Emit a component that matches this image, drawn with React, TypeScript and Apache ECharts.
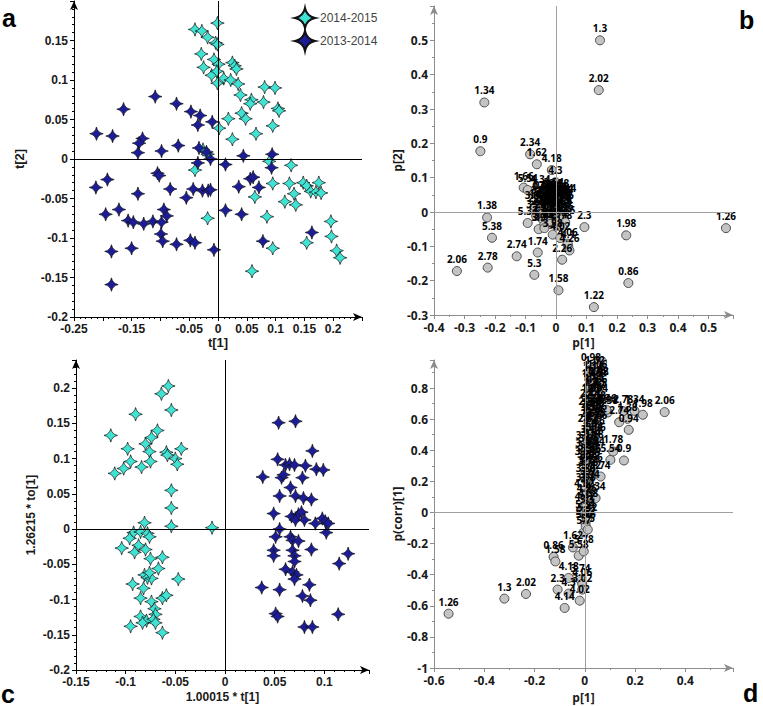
import React, { useEffect, useRef } from "react";
import * as echarts from "echarts";

// ---------- Panel a : t[1] vs t[2] ----------
const aSeason2014_2015: number[][] = [
  [-0.040, 0.164], [-0.028, 0.162], [-0.001, 0.172], [-0.018, 0.154], [-0.004, 0.147], [-0.001, 0.145],
  [-0.029, 0.133], [-0.025, 0.116], [-0.007, 0.126], [0.001, 0.120], [0.025, 0.122], [0.029, 0.118],
  [0.032, 0.114], [-0.011, 0.106], [-0.002, 0.111], [0.010, 0.102], [0.022, 0.100], [-0.001, 0.096],
  [0.035, 0.095], [0.081, 0.091], [0.099, 0.090], [0.039, 0.081], [0.058, 0.075], [0.056, 0.070],
  [0.079, 0.072], [0.104, 0.064], [0.106, 0.061], [0.041, 0.058], [0.048, 0.051], [0.018, 0.051],
  [0.095, 0.042], [0.002, 0.039], [0.066, 0.032], [0.025, 0.025], [-0.026, 0.012], [-0.018, 0.006],
  [0.089, -0.003], [0.127, -0.008], [0.095, -0.031], [0.124, -0.031], [0.132, -0.044], [0.116, -0.054],
  [0.135, -0.058], [0.148, -0.030], [0.154, -0.034], [0.161, -0.041], [0.170, -0.042], [0.175, -0.030],
  [0.179, -0.043], [0.064, -0.048], [0.085, -0.073], [-0.018, -0.075], [-0.040, -0.014], [0.196, -0.079],
  [0.197, -0.098], [0.206, -0.116], [0.212, -0.125], [0.154, -0.106], [0.095, -0.113], [0.059, -0.142],
];
const aSeason2013_2014: number[][] = [
  [-0.211, 0.032], [-0.183, 0.029], [-0.164, 0.063], [-0.109, 0.079], [-0.072, 0.070], [-0.047, 0.060],
  [-0.031, 0.055], [-0.035, 0.043], [-0.010, 0.047], [-0.131, 0.026], [-0.137, 0.020], [-0.139, 0.008],
  [-0.098, 0.010], [-0.069, 0.017], [-0.033, 0.014], [-0.020, 0.009], [-0.013, 0.000], [-0.035, -0.005],
  [0.013, -0.007], [0.044, 0.004], [0.094, 0.006], [0.093, -0.011], [-0.212, -0.036], [-0.192, -0.026],
  [-0.139, -0.044], [-0.105, -0.018], [-0.102, -0.021], [-0.083, -0.038], [-0.055, -0.049], [-0.043, -0.038],
  [-0.027, -0.040], [-0.017, -0.040], [-0.013, -0.039], [0.036, -0.035], [0.056, -0.025], [0.061, -0.023],
  [0.071, -0.036], [0.013, -0.065], [0.041, -0.070], [-0.195, -0.070], [-0.172, -0.064], [-0.156, -0.078],
  [-0.147, -0.080], [-0.129, -0.082], [-0.113, -0.079], [-0.098, -0.080], [-0.094, -0.064], [-0.089, -0.072],
  [-0.099, -0.095], [-0.096, -0.104], [-0.072, -0.108], [-0.048, -0.103], [-0.040, -0.106], [-0.007, -0.115],
  [-0.150, -0.113], [-0.185, -0.117], [-0.185, -0.159], [0.078, -0.104], [0.163, -0.093],
];

// ---------- Panel c : 1.00015*t[1] vs 1.26215*to[1] ----------
const cSeason2014_2015: number[][] = [
  [-0.115, 0.133], [-0.111, 0.079], [-0.102, 0.086], [-0.098, 0.114], [-0.095, 0.096], [-0.090, 0.163],
  [-0.084, 0.088], [-0.080, 0.121], [-0.076, 0.110], [-0.074, 0.130], [-0.075, 0.096], [-0.068, 0.140],
  [-0.064, 0.192], [-0.057, 0.203], [-0.054, 0.169], [-0.059, 0.109], [-0.058, 0.105], [-0.050, 0.100],
  [-0.048, 0.092], [-0.044, 0.114], [-0.054, 0.055], [-0.054, 0.030], [-0.054, 0.004], [-0.013, 0.002],
  [-0.081, 0.009], [-0.092, -0.005], [-0.096, -0.013], [-0.104, -0.027], [-0.091, -0.033], [-0.087, -0.023],
  [-0.085, -0.004], [-0.078, -0.006], [-0.076, -0.011], [-0.080, -0.029], [-0.075, -0.042], [-0.063, -0.040],
  [-0.067, -0.056], [-0.081, -0.065], [-0.078, -0.069], [-0.074, -0.070], [-0.076, -0.062], [-0.047, -0.071],
  [-0.093, -0.078], [-0.082, -0.084], [-0.085, -0.098], [-0.074, -0.103], [-0.063, -0.098], [-0.059, -0.094],
  [-0.071, -0.113], [-0.070, -0.121], [-0.085, -0.124], [-0.079, -0.130], [-0.083, -0.133], [-0.072, -0.128],
  [-0.070, -0.133], [-0.095, -0.138], [-0.063, -0.147],
];
const cSeason2013_2014: number[][] = [
  [0.054, 0.151], [0.071, 0.153], [0.088, 0.111], [0.053, 0.099], [0.061, 0.091], [0.065, 0.092],
  [0.070, 0.091], [0.081, 0.090], [0.092, 0.085], [0.099, 0.084], [0.038, 0.074], [0.057, 0.073],
  [0.059, 0.077], [0.078, 0.073], [0.066, 0.059], [0.055, 0.047], [0.071, 0.047], [0.079, 0.044],
  [0.087, 0.042], [0.049, 0.022], [0.067, 0.018], [0.074, 0.021], [0.077, 0.024], [0.071, 0.013],
  [0.080, 0.013], [0.091, 0.008], [0.098, 0.015], [0.101, 0.011], [0.104, 0.008], [0.055, 0.000],
  [0.051, -0.011], [0.102, -0.005], [0.066, -0.011], [0.068, -0.016], [0.074, -0.017], [0.049, -0.030],
  [0.049, -0.038], [0.068, -0.030], [0.070, -0.038], [0.087, -0.029], [0.124, -0.035], [0.115, -0.049],
  [0.070, -0.046], [0.061, -0.057], [0.068, -0.061], [0.072, -0.065], [0.070, -0.071], [0.085, -0.079],
  [0.037, -0.083], [0.055, -0.086], [0.078, -0.095], [0.086, -0.101], [0.051, -0.120], [0.053, -0.124],
  [0.114, -0.121], [0.080, -0.139], [0.088, -0.139],
];

// ---------- Panel b : p[1] vs p[2] (variable, p1, p2) ----------
const bLoadings: [string, number, number][] = [
  ["1.3", 0.144, 0.500], ["2.02", 0.140, 0.355], ["1.34", -0.235, 0.319], ["0.9", -0.248, 0.177],
  ["2.34", -0.085, 0.168], ["1.62", -0.063, 0.139], ["4.18", -0.014, 0.122], ["4.3", -0.002, 0.087],
  ["1.66", -0.106, 0.071], ["5.54", -0.093, 0.064], ["4.34", -0.051, 0.061], ["4.14", 0.033, 0.036],
  ["1.38", -0.226, -0.016], ["5.38", -0.210, -0.075], ["2.3", 0.093, -0.044], ["1.98", 0.230, -0.068],
  ["1.26", 0.557, -0.047], ["2.74", -0.129, -0.129], ["1.74", -0.060, -0.118], ["2.06", -0.325, -0.172],
  ["2.78", -0.224, -0.162], ["5.3", -0.071, -0.183], ["1.58", 0.008, -0.228], ["1.22", 0.124, -0.277],
  ["0.86", 0.237, -0.207], ["2.26", 0.020, -0.139], ["4.1", 0.040, -0.100], ["4.26", 0.044, -0.112],
  ["0.94", -0.045, 0.040], ["0.98", -0.040, 0.045], ["1.02", -0.030, 0.030], ["1.06", -0.020, 0.038],
  ["1.1", -0.012, 0.030], ["1.14", -0.005, 0.035], ["1.18", 0.002, 0.028], ["1.42", 0.010, 0.032],
  ["1.46", 0.018, 0.030], ["1.5", 0.025, 0.025], ["1.54", -0.055, 0.020], ["1.7", -0.048, 0.012],
  ["1.78", -0.038, 0.018], ["1.82", -0.030, 0.010], ["1.86", -0.022, 0.020], ["1.9", -0.015, 0.012],
  ["1.94", -0.008, 0.018], ["2.1", 0.000, 0.010], ["2.14", 0.008, 0.015], ["2.18", 0.015, 0.008],
  ["2.22", 0.022, 0.014], ["2.38", -0.060, 0.005], ["2.42", -0.050, -0.002], ["2.46", -0.042, 0.004],
  ["2.5", -0.034, -0.004], ["2.54", -0.026, 0.002], ["2.58", -0.018, -0.006], ["2.62", -0.010, 0.003],
  ["2.66", -0.002, -0.004], ["2.7", 0.006, 0.002], ["2.82", 0.014, -0.008], ["2.86", 0.020, -0.002],
  ["2.9", 0.028, 0.004], ["2.94", -0.035, 0.026], ["2.98", -0.025, 0.044], ["3.02", -0.012, 0.046],
  ["3.06", 0.004, 0.042], ["3.1", 0.015, 0.040], ["3.14", 0.024, 0.036], ["3.18", -0.050, 0.030],
  ["3.22", -0.065, -0.012], ["3.26", -0.045, -0.020], ["3.3", -0.030, -0.018], ["3.34", -0.015, -0.022],
  ["3.38", 0.000, -0.020], ["3.42", 0.012, -0.025], ["3.46", 0.025, -0.018], ["3.5", 0.035, 0.015],
  ["3.54", -0.008, 0.052], ["3.58", 0.010, 0.050], ["3.62", -0.070, 0.015], ["3.66", 0.030, -0.030],
  ["3.7", -0.020, -0.035], ["3.74", 0.005, -0.040], ["3.78", 0.020, -0.045], ["3.82", -0.040, -0.040],
  ["5.34", -0.093, -0.032], ["3.9", -0.057, -0.050], ["3.94", -0.038, -0.047], ["3.98", -0.011, -0.066],
  ["4.02", 0.014, -0.076], ["4.06", 0.038, -0.092],
];

// ---------- Panel d : p[1] vs p(corr)[1] (variable, p1, pcorr1) ----------
const dLoadings: [string, number, number][] = [
  ["1.26", -0.542, -0.651], ["1.3", -0.320, -0.554], ["2.02", -0.234, -0.524], ["2.06", 0.318, 0.645],
  ["1.98", 0.231, 0.628], ["1.34", 0.198, 0.653], ["2.78", 0.153, 0.651], ["5.38", 0.092, 0.643],
  ["1.38", 0.170, 0.602], ["2.74", 0.137, 0.580], ["0.94", 0.175, 0.531], ["0.9", 0.156, 0.334],
  ["5.54", 0.102, 0.338], ["1.78", 0.113, 0.392], ["1.74", 0.063, 0.231], ["4.34", 0.043, 0.092],
  ["1.62", -0.047, -0.225], ["5.58", -0.024, -0.278], ["5.78", -0.004, -0.250], ["0.86", -0.124, -0.286],
  ["1.58", -0.117, -0.315], ["4.18", -0.064, -0.421], ["3.74", -0.017, -0.432], ["4.06", -0.010, -0.460],
  ["2.3", -0.108, -0.496], ["4.3", -0.064, -0.522], ["3.02", -0.010, -0.496], ["4.02", -0.020, -0.567],
  ["4.14", -0.080, -0.614], ["5.7", -0.004, -0.128], ["5.62", 0.003, -0.068],
  ["0.98", 0.025, 0.920], ["1.02", 0.040, 0.900], ["1.06", 0.050, 0.880], ["1.1", 0.020, 0.870],
  ["1.14", 0.033, 0.860], ["1.18", 0.045, 0.840], ["1.42", 0.055, 0.830], ["1.46", 0.027, 0.820],
  ["1.5", 0.017, 0.800], ["1.54", 0.037, 0.790], ["1.66", 0.050, 0.780], ["1.7", 0.023, 0.760],
  ["1.82", 0.043, 0.750], ["1.86", 0.030, 0.730], ["1.9", 0.015, 0.720], ["1.94", 0.053, 0.720],
  ["2.1", 0.037, 0.700], ["2.14", 0.021, 0.690], ["2.18", 0.045, 0.680], ["2.22", 0.029, 0.660],
  ["2.26", 0.057, 0.660], ["2.34", 0.015, 0.640], ["2.38", 0.039, 0.630], ["2.42", 0.025, 0.620],
  ["2.46", 0.049, 0.610], ["2.5", 0.017, 0.600], ["2.54", 0.033, 0.590], ["2.58", 0.043, 0.570],
  ["2.62", 0.023, 0.560], ["2.66", 0.050, 0.550], ["2.7", 0.028, 0.540], ["2.82", 0.012, 0.530],
  ["2.86", 0.040, 0.520], ["2.9", 0.020, 0.500], ["2.94", 0.032, 0.480], ["3.06", 0.044, 0.470],
  ["3.1", 0.012, 0.460], ["3.14", 0.024, 0.440], ["3.18", 0.036, 0.430], ["3.22", 0.004, 0.420],
  ["3.26", 0.016, 0.400], ["3.3", 0.028, 0.390], ["3.34", 0.040, 0.380], ["3.38", 0.002, 0.370],
  ["3.42", 0.012, 0.350], ["3.46", 0.025, 0.340], ["3.5", 0.036, 0.330], ["3.54", 0.000, 0.320],
  ["3.58", 0.010, 0.300], ["3.62", 0.021, 0.290], ["3.66", 0.032, 0.280], ["3.7", 0.003, 0.260],
  ["3.78", 0.014, 0.250], ["3.82", 0.025, 0.230], ["3.86", 0.004, 0.210], ["3.9", 0.012, 0.190],
  ["3.94", 0.020, 0.170], ["3.98", 0.004, 0.150], ["4.1", 0.012, 0.130], ["4.22", -0.002, 0.110],
  ["4.26", 0.008, 0.080], ["4.38", 0.014, 0.050], ["4.42", 0.000, 0.030], ["5.3", 0.008, 0.010],
  ["5.34", 0.002, -0.020], ["5.42", 0.010, -0.040], ["5.46", 0.004, -0.090], ["5.5", 0.012, -0.110],
  ["2.98", 0.056, 0.830], ["4.46", 0.086, 0.660], ["4.5", 0.060, 0.760], ["5.66", 0.069, 0.970],
];

const seasonNames = ["2014-2015", "2013-2014"];
const seasonColors = ["#3fe3d3", "#1c1c96"];

const STAR = "path://M0,-10 Q1.7,-1.7 10,0 Q1.7,1.7 0,10 Q-1.7,1.7 -10,0 Q-1.7,-1.7 0,-10 Z";

const fmt = (v: number) => String(+v.toFixed(4));
const onlyLabels = (allowed: number[]) => (v: number) =>
  allowed.some((a) => Math.abs(a - v) < 1e-9) ? fmt(v) : "";

function App() {
  const ref = useRef<HTMLDivElement>(null);
  useEffect(() => {
    document.body.style.margin = "0";
    if (!ref.current) return;
    const chart = echarts.init(ref.current, undefined, { renderer: "svg" });

    const darkAxis = (opts: any) => ({
      type: "value",
      splitLine: { show: false },
      axisLine: {
        show: true,
        onZero: false,
        symbol: ["none", "arrow"],
        symbolSize: [6, 9],
        lineStyle: { color: opts.lineColor, width: 1 },
      },
      axisTick: { show: true, length: 4, lineStyle: { color: opts.lineColor } },
      minorTick: { show: true, splitNumber: opts.minorSplit, length: 2, lineStyle: { color: opts.lineColor } },
      axisLabel: {
        color: "#1a1a1a",
        fontWeight: "bold",
        fontSize: 12,
        fontFamily: opts.font,
        margin: 6,
        showMaxLabel: true,
        formatter: opts.formatter,
      },
      nameLocation: "middle",
      nameTextStyle: { color: "#1a1a1a", fontWeight: "bold", fontSize: opts.nameSize || 12, fontFamily: opts.font },
      ...opts.axis,
    });

    const AC = { lineColor: "#000", minorSplit: 5, font: "Liberation Sans" };
    const BD = { lineColor: "#8c8c8c", minorSplit: 2, font: "Open Sans" };

    const xAxis = [
      darkAxis({ ...AC, nameSize: 13, formatter: onlyLabels([-0.25, -0.15, -0.05, 0, 0.05, 0.1, 0.15, 0.2]),
        axis: { gridIndex: 0, min: -0.25, max: 0.25, interval: 0.05, name: "t[1]", nameGap: 19 } }),
      darkAxis({ ...BD, formatter: onlyLabels([-0.4, -0.3, -0.2, -0.1, 0, 0.1, 0.2, 0.3, 0.4, 0.5]),
        axis: { gridIndex: 1, min: -0.4, max: 0.58, interval: 0.1, name: "p[1]", nameGap: 21 } }),
      darkAxis({ ...AC, formatter: onlyLabels([-0.15, -0.1, -0.05, 0, 0.05, 0.1]),
        axis: { gridIndex: 2, min: -0.15, max: 0.145, interval: 0.05, name: "1.00015 * t[1]", nameGap: 21 } }),
      darkAxis({ ...BD, formatter: onlyLabels([-0.6, -0.4, -0.2, 0, 0.2, 0.4]),
        axis: { gridIndex: 3, min: -0.6, max: 0.59, interval: 0.2, name: "p[1]", nameGap: 23 } }),
    ];
    const yAxis = [
      darkAxis({ ...AC, nameSize: 13, formatter: onlyLabels([-0.2, -0.15, -0.1, -0.05, 0, 0.05, 0.1, 0.15]),
        axis: { gridIndex: 0, min: -0.2, max: 0.2, interval: 0.05, name: "t[2]", nameGap: 48 } }),
      darkAxis({ ...BD, formatter: onlyLabels([-0.3, -0.2, -0.1, 0, 0.1, 0.2, 0.3, 0.4, 0.5]),
        axis: { gridIndex: 1, min: -0.3, max: 0.6, interval: 0.1, name: "p[2]", nameGap: 29 } }),
      darkAxis({ ...AC, formatter: onlyLabels([-0.2, -0.15, -0.1, -0.05, 0, 0.05, 0.1, 0.15, 0.2]),
        axis: { gridIndex: 2, min: -0.2, max: 0.24, interval: 0.05, name: "1.26215 * to[1]", nameGap: 39 } }),
      darkAxis({ ...BD, formatter: onlyLabels([-1, -0.8, -0.6, -0.4, -0.2, 0, 0.2, 0.4, 0.6, 0.8]),
        axis: { gridIndex: 3, min: -1, max: 0.98, interval: 0.2, name: "p(corr)[1]", nameGap: 27 } }),
    ];

    const zeroLines = (idx: number, color: string) => ({
      type: "scatter",
      xAxisIndex: idx,
      yAxisIndex: idx,
      data: [],
      silent: true,
      z: 1,
      markLine: {
        silent: true,
        symbol: "none",
        label: { show: false },
        lineStyle: { color, width: 1, type: "solid" },
        data: [{ xAxis: 0 }, { yAxis: 0 }],
      },
    });

    const starSeries = (idx: number, name: string, color: string, data: number[][]) => ({
      type: "scatter",
      name,
      xAxisIndex: idx,
      yAxisIndex: idx,
      symbol: STAR,
      symbolSize: 13.5,
      z: 3,
      itemStyle: { color, borderColor: "#111", borderWidth: 0.7, opacity: 1 },
      data,
    });

    const loadSeries = (idx: number, pts: [string, number, number][]) => ({
      type: "scatter",
      xAxisIndex: idx,
      yAxisIndex: idx,
      symbol: "circle",
      symbolSize: 9,
      z: 3,
      itemStyle: { color: "#c4c4c4", borderColor: "#4a4a4a", borderWidth: 1, opacity: 1 },
      label: {
        show: true,
        position: "top",
        distance: 2,
        formatter: (p: any) => p.name,
        color: "#000",
        fontWeight: "bold",
        fontSize: 10,
        fontFamily: "Open Sans",
      },
      data: pts.map(([n, x, y]) =>
        n === "5.66" ? { name: n, value: [x, y], label: { show: false } } : { name: n, value: [x, y] }
      ),
    });

    const letter = (t: string, x: number, y: number) => ({
      type: "text",
      x,
      y,
      style: { text: t, font: "bold 25px Liberation Sans", fill: "#000", verticalAlign: "bottom", align: "left" },
    });

    chart.setOption({
      animation: false,
      backgroundColor: "#fff",
      grid: [
        { left: 74, top: 1, width: 288, height: 316 },
        { left: 434, top: 6, width: 299, height: 309 },
        { left: 76, top: 360, width: 293, height: 310 },
        { left: 434, top: 360, width: 299, height: 308 },
      ],
      xAxis,
      yAxis,
      legend: {
        data: seasonNames,
        orient: "vertical",
        left: 289,
        top: 2,
        itemWidth: 20,
        itemHeight: 20,
        itemGap: 1,
        textStyle: { fontSize: 12, color: "#444", fontFamily: "Liberation Sans" },
      },
      graphic: [letter("a", 2, 30), letter("b", 739, 32), letter("c", 1, 706), letter("d", 743, 705)],
      series: [
        zeroLines(0, "#000"),
        zeroLines(1, "#a0a0a0"),
        zeroLines(2, "#000"),
        zeroLines(3, "#a0a0a0"),
        starSeries(0, seasonNames[0], seasonColors[0], aSeason2014_2015),
        starSeries(0, seasonNames[1], seasonColors[1], aSeason2013_2014),
        starSeries(2, seasonNames[0], seasonColors[0], cSeason2014_2015),
        starSeries(2, seasonNames[1], seasonColors[1], cSeason2013_2014),
        loadSeries(1, bLoadings),
        loadSeries(3, dLoadings),
      ],
    });
    return () => chart.dispose();
  }, []);
  return <div ref={ref} style={{ width: 763, height: 706 }} />;
}

export default App;
